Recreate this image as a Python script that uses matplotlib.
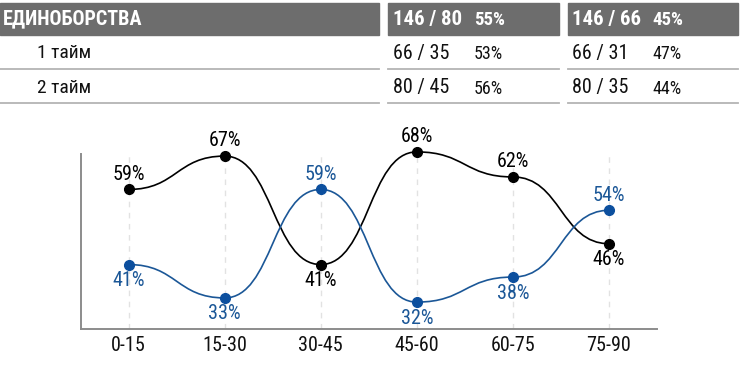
import matplotlib
matplotlib.use("Agg")
import matplotlib.pyplot as plt
from matplotlib.path import Path
from matplotlib.patches import PathPatch, Rectangle
from matplotlib.lines import Line2D
from matplotlib import font_manager as fm

# ---- data ----
categories = ["0-15", "15-30", "30-45", "45-60", "60-75", "75-90"]
series_black = [59, 67, 41, 68, 62, 46]
series_blue = [41, 33, 59, 32, 38, 54]

table_title = "ЕДИНОБОРСТВА"
row_labels = ["1 тайм", "2 тайм"]
team1_header = ("146 / 80", "55%")
team1_rows = [("66 / 35", "53%"), ("80 / 45", "56%")]
team2_header = ("146 / 66", "45%")
team2_rows = [("66 / 31", "47%"), ("80 / 35", "44%")]

BLACK = "#000000"
BLUE = "#1b5797"
BLUE_MARK = "#0c4f9e"
HEADER_BG = "#6d6d6d"
SEP = "#b4b4b4"


# ---- pick a condensed font if one is installed ----
def find_condensed(bold):
    prefs = ["Noto Sans", "Roboto", "Open Sans", "DejaVu Sans", "Liberation Sans", "Lato", "Inter"]
    cands = []
    for f in fm.fontManager.ttflist:
        tag = (f.name + " " + f.fname).lower()
        flat = tag.replace(" ", "")
        if ("condensed" in tag or "narrow" in tag) and "semicondensed" not in flat \
                and "extracondensed" not in flat and "italic" not in tag and "oblique" not in tag:
            w = f.weight if isinstance(f.weight, int) else {"normal": 400, "regular": 400, "bold": 700}.get(str(f.weight), 400)
            if bold and w < 600:
                continue
            if not bold and (w < 350 or w > 450):
                continue
            if "cjk" in tag or "mono" in tag:
                continue
            rank = len(prefs)
            for k, p in enumerate(prefs):
                if p.lower() in tag:
                    rank = k
                    break
            cands.append((rank, f.fname))
    cands.sort()
    return cands[0][1] if cands else None


reg_file = find_condensed(False)
bold_file = find_condensed(True)


def fp(size, bold=False):
    fn = bold_file if bold else reg_file
    if fn:
        return fm.FontProperties(fname=fn, size=size)
    return fm.FontProperties(family="DejaVu Sans", size=size * 0.8, weight="bold" if bold else "normal")


W, H = 750, 367
fig = plt.figure(figsize=(W / 100, H / 100), dpi=100)


def fx(px):
    return px / W


def fy(py):
    return 1 - py / H


# ---- table ----
blocks = [(0, 379), (388, 559), (568, 738)]
for x0, x1 in blocks:
    fig.patches.append(Rectangle((fx(x0), fy(35)), fx(x1 - x0), 32 / H,
                                 transform=fig.transFigure, color=HEADER_BG, zorder=0))
    for ly in (69, 103):
        fig.lines.append(Line2D([fx(x0), fx(x1)], [fy(ly), fy(ly)], transform=fig.transFigure,
                                color=SEP, lw=1.3))

fig.text(fx(3), fy(19), table_title, color="white", fontproperties=fp(14.5, True),
         va="center", ha="left")
for i, lab in enumerate(row_labels):
    fig.text(fx(37), fy(53 + 35 * i), lab, color="#111111", fontproperties=fp(14),
             va="center", ha="left")

for (hdr, rows, xa, xb) in [(team1_header, team1_rows, 393, 474), (team2_header, team2_rows, 572, 652)]:
    fig.text(fx(xa), fy(19), hdr[0], color="white", fontproperties=fp(15, True), va="center")
    fig.text(fx(xb), fy(20), hdr[1], color="white", fontproperties=fp(13.5, True), va="center")
    for i, (a, b) in enumerate(rows):
        fig.text(fx(xa), fy(53 + 35 * i), a, color="#111111", fontproperties=fp(14.5), va="center")
        fig.text(fx(xb), fy(54 + 35 * i), b, color="#111111", fontproperties=fp(13), va="center")

# ---- chart ----
ax = fig.add_axes([fx(80.5), 1 - 329 / H, (657 - 80.5) / W, (329 - 154) / H])
x = list(range(len(categories)))
ax.set_xlim(-0.5, len(categories) - 0.5)
ax.set_ylim(25.55, 67.5)


def bump_path(xs, ys, k=0.5):
    verts = [(xs[0], ys[0])]
    codes = [Path.MOVETO]
    for i in range(1, len(xs)):
        dx = xs[i] - xs[i - 1]
        verts += [(xs[i - 1] + k * dx, ys[i - 1]), (xs[i] - k * dx, ys[i]), (xs[i], ys[i])]
        codes += [Path.CURVE4] * 3
    return Path(verts, codes)


for vals, lc_, mc in [(series_black, BLACK, BLACK), (series_blue, BLUE, BLUE_MARK)]:
    ax.add_patch(PathPatch(bump_path(x, vals), facecolor="none", edgecolor=lc_, lw=1.2,
                           zorder=3, clip_on=False))
    ax.plot(x, vals, linestyle="none", marker="o", markersize=7, color=mc, zorder=4, clip_on=False)

for i in x:
    for vals, other, col in [(series_black, series_blue, BLACK), (series_blue, series_black, BLUE)]:
        up = vals[i] >= other[i]
        ax.annotate(f"{vals[i]}%", (i, vals[i]), xytext=(0, 11 if up else -11.5),
                    textcoords="offset points", ha="center", va="center",
                    fontproperties=fp(14.5), color=col, zorder=5, annotation_clip=False)

ax.set_xticks(x)
ax.set_xticklabels(categories, color="#111111")
for t in ax.get_xticklabels():
    t.set_fontproperties(fp(14.5))
ax.set_yticks([])
ax.tick_params(axis="x", length=0, pad=5)
ax.grid(axis="x", linestyle=(0, (4, 4)), color="#e2e2e2", lw=1)
for s in ("top", "right"):
    ax.spines[s].set_visible(False)
for s in ("left", "bottom"):
    ax.spines[s].set_color("#8c8c8c")
    ax.spines[s].set_linewidth(1.4)

fig.savefig("out.png", dpi=100)
